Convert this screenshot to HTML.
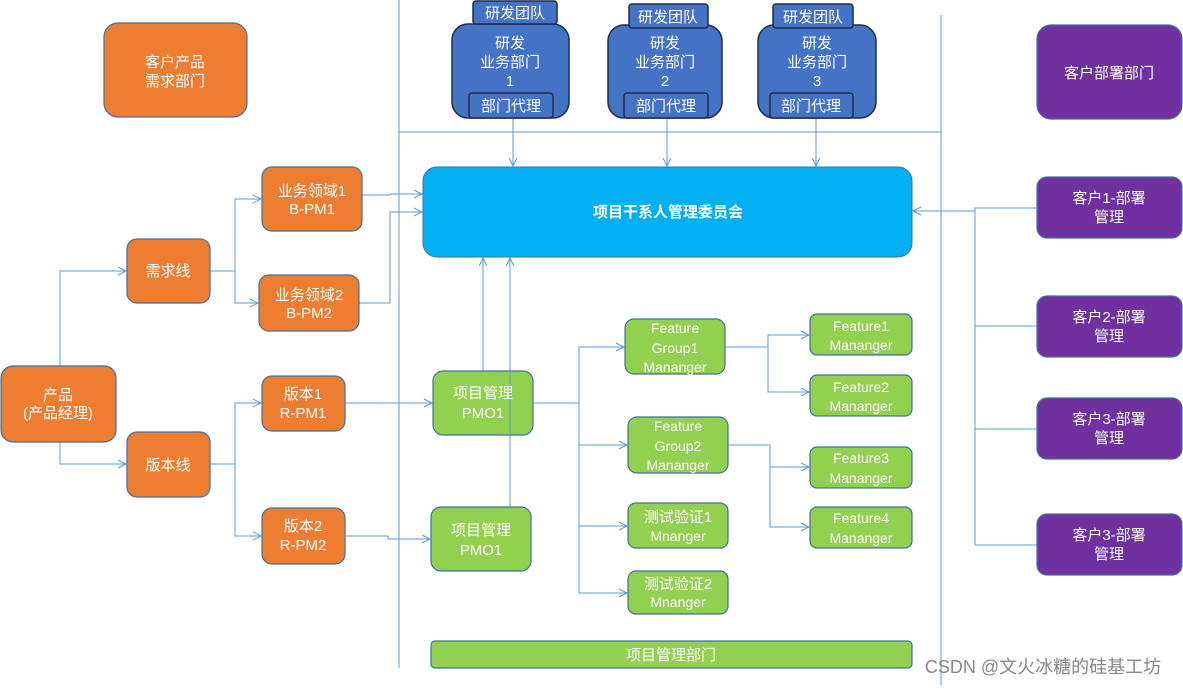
<!DOCTYPE html>
<html><head><meta charset="utf-8"><style>
html,body{margin:0;padding:0;background:#fff;}
svg text{font-family:"Liberation Sans","Noto Sans CJK SC",sans-serif;fill:#fff;font-size:15px;text-anchor:middle;}
</style></head><body>
<svg width="1183" height="685" viewBox="0 0 1183 685" xmlns="http://www.w3.org/2000/svg">
<defs>
<marker id="a" markerWidth="10" markerHeight="10" refX="9" refY="5" orient="auto" markerUnits="userSpaceOnUse">
<path d="M1,1 L9,5 L1,9" fill="none" stroke="#5b9bd5" stroke-width="1"/></marker>
</defs>
<g fill="none" stroke="#5b9bd5" stroke-width="1">
<line x1="399" y1="0" x2="399" y2="668"/>
<line x1="941" y1="15" x2="941" y2="685"/>
<line x1="399" y1="132" x2="941" y2="132"/>
<path d="M60,366 V271 H126" marker-end="url(#a)"/>
<path d="M60,442 V464 H126" marker-end="url(#a)"/>
<path d="M210,271 H235 V199 H261" marker-end="url(#a)"/>
<path d="M235,271 V303 H258" marker-end="url(#a)"/>
<path d="M210,464 H235 V403 H261" marker-end="url(#a)"/>
<path d="M235,464 V536 H261" marker-end="url(#a)"/>
<path d="M362,195 H390 V194 H422" marker-end="url(#a)"/>
<path d="M359,303 H390 V212 H422" marker-end="url(#a)"/>
<path d="M345,403 H432" marker-end="url(#a)"/>
<path d="M345,536 H388 V539 H430" marker-end="url(#a)"/>
<path d="M483,371 V258" marker-end="url(#a)"/>
<path d="M510,507 V258" marker-end="url(#a)"/>
<path d="M513,118 V166" marker-end="url(#a)"/>
<path d="M667,118 V166" marker-end="url(#a)"/>
<path d="M816,118 V166" marker-end="url(#a)"/>
<path d="M533,403 H579 V347 H624" marker-end="url(#a)"/>
<path d="M579,403 V445 H627" marker-end="url(#a)"/>
<path d="M579,445 V526 H627" marker-end="url(#a)"/>
<path d="M579,526 V593 H627" marker-end="url(#a)"/>
<path d="M725,347 H768 V335 H809" marker-end="url(#a)"/>
<path d="M768,347 V392 H809" marker-end="url(#a)"/>
<path d="M728,445 H770 V467 H809" marker-end="url(#a)"/>
<path d="M770,467 V527 H809" marker-end="url(#a)"/>
<path d="M1037,208 H975 V545 H1037"/>
<path d="M975,326 H1037 M975,429 H1037"/>
<path d="M975,211 H913" marker-end="url(#a)"/>
</g>
<g stroke="#41719c" stroke-width="1.2" fill="#ed7d31">
<rect x="104" y="23" width="143" height="94" rx="14"/>
<rect x="127" y="239" width="83" height="64" rx="10"/>
<rect x="262" y="167" width="100" height="64" rx="10"/>
<rect x="259" y="275" width="100" height="56" rx="10"/>
<rect x="1" y="366" width="115" height="76" rx="12"/>
<rect x="127" y="432" width="83" height="65" rx="10"/>
<rect x="262" y="376" width="83" height="55" rx="10"/>
<rect x="262" y="508" width="83" height="56" rx="10"/>
</g>
<g stroke="#1f2d4d" stroke-width="1.5" fill="#4472c4">
<rect x="452" y="24" width="117" height="94" rx="16"/>
<rect x="473" y="1" width="84" height="23" rx="3"/>
<rect x="469" y="93" width="84" height="25" rx="3"/>
<rect x="608" y="25" width="114" height="93" rx="16"/>
<rect x="629" y="4" width="79" height="24" rx="3"/>
<rect x="624" y="93" width="84" height="25" rx="3"/>
<rect x="758" y="25" width="118" height="93" rx="16"/>
<rect x="773" y="4" width="80" height="24" rx="3"/>
<rect x="770" y="93" width="83" height="25" rx="3"/>
</g>
<rect x="423" y="167" width="489" height="90" rx="14" fill="#00b0f0" stroke="#41719c"/>
<g stroke="#41719c" stroke-width="1.2" fill="#92d050">
<rect x="433" y="371" width="100" height="64" rx="10"/>
<rect x="431" y="507" width="100" height="64" rx="10"/>
<rect x="625" y="319" width="100" height="55" rx="9"/>
<rect x="628" y="417" width="100" height="56" rx="9"/>
<rect x="628" y="503" width="100" height="45" rx="8"/>
<rect x="628" y="571" width="100" height="43" rx="8"/>
<rect x="810" y="314" width="102" height="41" rx="7"/>
<rect x="810" y="375" width="102" height="41" rx="7"/>
<rect x="810" y="447" width="102" height="41" rx="7"/>
<rect x="810" y="507" width="102" height="41" rx="7"/>
<rect x="431" y="641" width="481" height="27" rx="4"/>
</g>
<line x1="510" y1="371" x2="510" y2="435" stroke="#5b9bd5" stroke-width="1"/>
<g stroke="#41719c" stroke-width="1.2" fill="#7030a0">
<rect x="1037" y="25" width="145" height="94" rx="14"/>
<rect x="1037" y="177" width="145" height="61" rx="10"/>
<rect x="1037" y="296" width="145" height="61" rx="10"/>
<rect x="1037" y="398" width="145" height="61" rx="10"/>
<rect x="1037" y="514" width="145" height="61" rx="10"/>
</g>
<text x="175" y="67">客户产品</text><text x="175" y="86">需求部门</text>
<text x="168" y="276">需求线</text>
<text x="312" y="196">业务领域1</text><text x="312" y="214">B-PM1</text>
<text x="309" y="300">业务领域2</text><text x="309" y="318">B-PM2</text>
<text x="58" y="400">产品</text><text x="58" y="418">(产品经理)</text>
<text x="168" y="470">版本线</text>
<text x="303" y="399">版本1</text><text x="303" y="418">R-PM1</text>
<text x="303" y="531">版本2</text><text x="303" y="550">R-PM2</text>
<text x="515" y="18">研发团队</text><text x="510" y="48">研发</text><text x="510" y="67">业务部门</text><text x="510" y="86">1</text><text x="511" y="111">部门代理</text>
<text x="668" y="22">研发团队</text><text x="665" y="48">研发</text><text x="665" y="67">业务部门</text><text x="665" y="86">2</text><text x="666" y="111">部门代理</text>
<text x="813" y="22">研发团队</text><text x="817" y="48">研发</text><text x="817" y="67">业务部门</text><text x="817" y="86">3</text><text x="811" y="111">部门代理</text>
<text x="668" y="217" style="font-weight:bold;font-size:15px">项目干系人管理委员会</text>
<text x="483" y="398">项目管理</text><text x="483" y="418">PMO1</text>
<text x="481" y="535">项目管理</text><text x="481" y="555">PMO1</text>
<text x="675" y="333" style="font-size:14px">Feature</text><text x="675" y="353" style="font-size:14px">Group1</text><text x="675" y="372" style="font-size:14px">Mananger</text>
<text x="678" y="431" style="font-size:14px">Feature</text><text x="678" y="451" style="font-size:14px">Group2</text><text x="678" y="470" style="font-size:14px">Mananger</text>
<text x="678" y="522">测试验证1</text><text x="678" y="541" style="font-size:14px">Mnanger</text>
<text x="678" y="589">测试验证2</text><text x="678" y="607" style="font-size:14px">Mnanger</text>
<text x="861" y="331" style="font-size:14px">Feature1</text><text x="861" y="350" style="font-size:14px">Mananger</text>
<text x="861" y="392" style="font-size:14px">Feature2</text><text x="861" y="411" style="font-size:14px">Mananger</text>
<text x="861" y="463" style="font-size:14px">Feature3</text><text x="861" y="483" style="font-size:14px">Mananger</text>
<text x="861" y="523" style="font-size:14px">Feature4</text><text x="861" y="543" style="font-size:14px">Mananger</text>
<text x="671" y="660">项目管理部门</text>
<text x="1109" y="78">客户部署部门</text>
<text x="1109" y="203">客户1-部署</text><text x="1109" y="222">管理</text>
<text x="1109" y="322">客户2-部署</text><text x="1109" y="341">管理</text>
<text x="1109" y="424">客户3-部署</text><text x="1109" y="443">管理</text>
<text x="1109" y="540">客户3-部署</text><text x="1109" y="559">管理</text>
<text x="1043" y="673" style="fill:#888;font-size:18px">CSDN @文火冰糖的硅基工坊</text>
</svg>
</body></html>
